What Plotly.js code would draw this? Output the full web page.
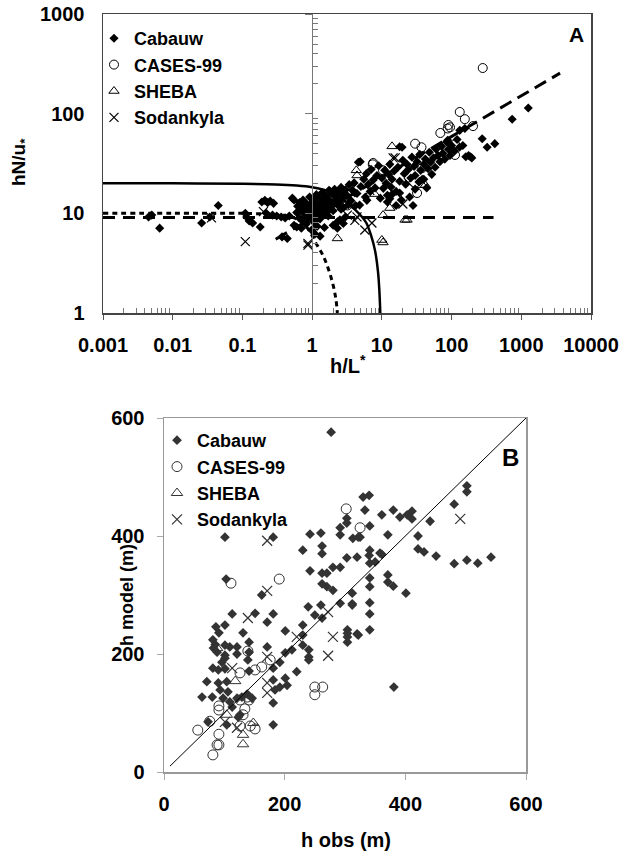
<!DOCTYPE html>
<html>
<head>
<meta charset="utf-8">
<script src="https://cdn.plot.ly/plotly-3.0.1.min.js"></script>
<style>html,body{margin:0;padding:0;background:#fff;}#chart{width:630px;height:854px;}</style>
</head>
<body>
<div id="chart"></div>
<script>
// ---------- Panel A data (h/L*, hN/u*) ----------
const seriesNames = ['Cabauw', 'CASES-99', 'SHEBA', 'Sodankyla'];
const decadeTicksX = [0.001, 0.01, 0.1, 1, 10, 100, 1000, 10000];
const decadeLabelsX = ['0.001', '0.01', '0.1', '1', '10', '100', '1000', '10000'];
const decadeTicksY = [1, 10, 100, 1000];
const decadeLabelsY = ['1', '10', '100', '1000'];

const cabauwA = [
 [0.0045,9.2],[0.005,9.6],[0.0065,7.1],[0.026,8.0],[0.034,9.2],[0.045,12],[0.11,10],[0.115,9.2],[0.125,8.4],[0.14,8.0],
 [0.18,7.3],[0.19,13],[0.21,13.5],[0.23,12.8],[0.25,13.3],[0.28,12.6],[0.22,10],[0.27,9.6],[0.31,9.4],[0.36,9.2],
 [0.41,9.0],[0.37,5.8],[0.44,5.6],[0.52,14.2],[0.55,13.6],[0.55,7.6],[0.6,7.3],[0.7,7.1],[0.47,9.4],
 [0.6,10.2],[0.62,11.8],[0.65,9.0],[0.66,12.8],[0.7,10.6],[0.72,8.6],[0.74,13.6],[0.78,9.8],[0.8,11.4],[0.82,7.8],
 [0.84,12.4],[0.88,10.2],[0.9,8.8],[0.92,14.6],[0.95,11.0],[0.97,9.4],[0.98,6.8],[1.0,12.8],[1.02,10.4],[1.05,8.2],
 [1.08,13.8],[1.1,11.4],[1.12,9.6],[1.15,15.4],[1.18,7.4],[1.2,12.2],[1.25,10.2],[1.28,14.2],[1.3,8.8],[1.35,11.8],
 [1.4,16.2],[1.42,9.8],[1.45,13.2],[1.5,7.2],[1.55,11.0],[1.6,14.8],[1.65,12.4],[1.7,9.4],[1.75,17.0],[1.8,13.2],
 [1.9,11.8],[1.95,15.6],[2.0,10.6],[2.1,17.4],[2.2,13.8],[2.3,12.2],[2.4,16.4],[2.5,8.6],[2.6,18.2],[2.7,14.6],
 [2.8,11.4],[3.0,17.2],[3.2,15.0],[3.4,19.4],[3.6,13.4],[3.8,17.0],[4.0,20.2],[4.2,12.0],[4.4,15.8],[1.1,6.2],
 [1.3,5.9],[2.0,7.6],[2.3,7.1],[2.3,8.2],[2.8,7.9],[3.0,9.2],[4.1,16],[4.8,12.1],[6.1,13.5],[0.75,10.8],
 [0.85,9.2],[1.0,9.6],[1.2,10.8],[1.4,12.6],[1.6,10.2],[1.8,11.0],[2.0,12.6],[2.2,15.0],[2.5,13.0],[2.9,15.8],
 [3.3,12.2],[1.05,12.0],[1.5,14.0],[0.7,12.0],[0.9,11.6],[1.15,8.6],[1.35,10.6],[1.7,13.8],[2.6,11.0],
 [4.6,32.6],[4.9,33],[5.0,18.6],[5.5,22],[5.8,14.6],[6.0,25],[6.4,19.6],[6.8,16.6],[7.0,27.6],[7.5,21.6],
 [8.0,18],[8.5,24],[9.0,30],[9.5,14.2],[10,22.6],[10.5,17.8],[11,27],[11.5,20],[12,15.2],[12.5,24.6],
 [13,31],[13.5,18.4],[14,22],[15,26.6],[16,16.6],[17,29],[18,21],[18,46.5],[19.5,46],[19,13.6],
 [20,34],[21,25],[22,19.6],[23,31],[24,27.6],[25,14.6],[26,22.6],[27,36.6],[28,12],[29,29.6],
 [30,24],[32,33],[34,20.6],[35,39],[36,27],[38,22],[40,31],[42,35],[44,18],[46,28],
 [48,41],[50,32.6],[52,24.6],[55,36],[58,29],[60,44],[64,38],[68,33],[72,47],[75,40],
 [80,35],[85,52],[88,54],[90,44],[95,38],[100,48],[110,42],[120,55],[131,68],[155,71],
 [130,46],[145,48],[160,37],[175,38],[186,37],[195,36],[275,56],[324,46],[417,50],[740,88],
 [1260,114],[12,13],[14,15.5],[16,12],[13,14],[18,16],[30,17.5],[35,21],[40,22]
];
const casesA = [
 [7.4,31],[7.5,32],[30,50],[37,46],[38,28.5],[32,16],[69,64],[90,77],[95,73],[112,49],
 [112,38.5],[131,104],[155,88],[203,75],[280,287],[10.4,27],[3.2,12],[88,71]
];
const shebaA = [
 [14,47],[4.3,27],[4.4,24],[42,19.2],[7.9,15.6],[2.3,5.6],[10.4,5.1],[10.4,9.6],[21.5,8.6],[23,8.6],
 [38,19.2],[13,11.3],[10,5.4]
];
const sodankylaA = [
 [0.036,9.0],[0.11,5.2],[0.2,10.4],[0.87,5.0],[0.87,4.8],[3.2,9.6],[4.4,9.2],[4.1,8.5],[5.7,6.8],[7.2,8.0],
 [6.7,17],[20,12.4],[24,20.3],[14.5,36],[15.5,36]
];

// Panel A model curves
const solidCurveX = [0.001,0.01,0.1,0.3,0.6,1,1.5,2,2.8,3.5,4.3,5.2,6,7,8,8.8,9.2,9.5];
const solidCurveY = [20,20,19.8,19.5,19,18.3,17.2,16,13.8,12,10.6,9.2,8,6,4.2,2.6,1.7,1.0];
const dotCurveX = [0.001,0.01,0.1,0.3,0.5,0.7,0.9,1.1,1.4,1.7,2.0,2.2,2.3];
const dotCurveY = [10,10,10,9.7,9.2,8.2,6.8,5.2,3.9,2.8,1.9,1.35,1.0];
const flatLineX = [0.001, 400];
const flatLineY = [9.1, 9.1];
const slopeLineX = [0.3, 3600];
const slopeLineY = [5.5, 255];

// ---------- Panel B data (h obs, h model) ----------
const linearTicks = [0, 200, 400, 600];
const cabauwB = [
 [277,576],[101,398],[181,398],[103,327],[162,300],[242,403],[260,405],[262,383],[262,370],[230,376],
 [242,341],[262,337],[270,337],[280,347],[292,347],[262,319],[270,314],[280,308],[292,414],[292,402],
 [303,430],[303,422],[313,396],[330,466],[340,469],[333,444],[325,398],[303,363],[320,364],[340,367],
 [358,371],[341,376],[312,303],
 [361,436],[380,444],[391,432],[403,436],[411,442],[411,429],[441,425],[341,417],[322,398],[371,402],
 [421,400],[421,378],[431,373],[451,366],[481,353],[502,359],[520,354],[542,364],[481,454],[502,485],
 [502,475],[341,354],[350,356],[361,369],[371,334],[371,322],[380,315],[401,303],[341,329],[341,314],
 [312,285],[341,287],[341,268],[341,241],[320,234],[381,144],
 [113,268],[151,269],[181,268],[171,254],[101,249],[86,246],[91,236],[81,224],[85,216],[82,210],
 [88,203],[101,215],[109,212],[121,212],[121,200],[101,198],[131,236],[141,220],[171,212],[141,203],
 [139,190],[201,239],[239,280],[260,283],[292,286],[312,283],[230,249],[250,266],[262,261],[230,232],
 [212,207],[201,202],[192,186],[230,215],[240,207],[240,195],[240,190],[304,241],[304,235],[304,229],
 [304,220],[322,232],[220,170],[181,176],[181,156],[201,159],[204,147],[192,144],[184,139],[81,176],
 [90,173],[101,175],[96,186],[101,193],[71,153],[90,151],[104,153],[93,139],[106,136],[80,127],
 [63,127],[98,125],[109,119],[121,125],[129,127],[138,132],[146,125],[113,110],[126,97],[123,93],
 [104,80],[73,85],[181,117],[181,80],[141,171]
];
const casesB = [
 [111,320],[191,327],[302,446],[325,414],[139,205],[126,168],[151,173],[162,178],[176,190],[91,112],
 [91,105],[126,122],[138,127],[141,122],[134,107],[131,97],[76,86],[56,71],[91,64],[88,46],
 [91,46],[81,29],[126,78],[143,78],[151,73],[250,144],[263,144],[250,131]
];
const shebaB = [[118,154],[104,97],[131,63],[131,47],[148,83],[88,210]];
const sodankylaB = [
 [171,392],[171,307],[491,429],[139,261],[113,176],[171,195],[171,151],[171,134],[101,85],[121,75],
 [220,229],[280,229],[272,197],[272,271]
];
const oneToOneX = [10, 600];
const oneToOneY = [10, 600];

// ---------- Layout geometry ----------
const W = 630, H = 854;
const domAx = [103 / W, 591 / W], domAy = [1 - 313 / H, 1 - 14 / H];
const domBx = [164 / W, 526 / W], domBy = [1 - 772 / H, 1 - 418 / H];
const posX1 = domAx[0] + (3 / 7) * (domAx[1] - domAx[0]);

const minorLog = (lo, hi) => {
  const out = [];
  for (let e = lo; e < hi; e++) for (let m = 2; m <= 9; m++) out.push(m * Math.pow(10, e));
  return out;
};

const FONT = 'Liberation Sans, Arial, Helvetica, sans-serif';
const bold = s => '<b>' + s + '</b>';
const xs = a => a.map(p => p[0]);
const ys = a => a.map(p => p[1]);

const symA = {
  'Cabauw': {symbol: 'diamond', size: 7, color: '#000', line: {width: 0}},
  'CASES-99': {symbol: 'circle-open', size: 9, color: '#000', line: {width: 1}},
  'SHEBA': {symbol: 'triangle-up-open', size: 9, color: '#000', line: {width: 1}},
  'Sodankyla': {symbol: 'x-thin-open', size: 9, color: '#000', line: {width: 1.2, color: '#000'}}
};
const symB = {
  'Cabauw': {symbol: 'diamond', size: 7.5, color: '#333', line: {width: 0}},
  'CASES-99': {symbol: 'circle-open', size: 10, color: '#333', line: {width: 1}},
  'SHEBA': {symbol: 'triangle-up-open', size: 10, color: '#333', line: {width: 1}},
  'Sodankyla': {symbol: 'x-thin-open', size: 10, color: '#333', line: {width: 1.2, color: '#333'}}
};

const dataA = [cabauwA, casesA, shebaA, sodankylaA];
const dataB = [cabauwB, casesB, shebaB, sodankylaB];
const traces = [];
// empty traces that only bring the overlay axes (minor ticks, vertical axis at x = 1) to life
traces.push({type: 'scatter', mode: 'markers', x: [], y: [], xaxis: 'x2', yaxis: 'y', showlegend: false, hoverinfo: 'skip'});
traces.push({type: 'scatter', mode: 'markers', x: [], y: [], xaxis: 'x', yaxis: 'y2', showlegend: false, hoverinfo: 'skip'});
traces.push({type: 'scatter', mode: 'markers', x: [], y: [], xaxis: 'x', yaxis: 'y3', showlegend: false, hoverinfo: 'skip'});

seriesNames.forEach((n, i) => {
  traces.push({type: 'scatter', mode: 'markers', name: bold(n), x: xs(dataA[i]), y: ys(dataA[i]),
    xaxis: 'x', yaxis: 'y', marker: symA[n], legend: 'legend', hoverinfo: 'x+y'});
});
traces.push({type: 'scatter', mode: 'lines', x: solidCurveX, y: solidCurveY, xaxis: 'x', yaxis: 'y',
  line: {color: '#000', width: 2.5, shape: 'spline', smoothing: 1}, showlegend: false});
traces.push({type: 'scatter', mode: 'lines', x: dotCurveX, y: dotCurveY, xaxis: 'x', yaxis: 'y',
  line: {color: '#000', width: 3, dash: '5px,4px', shape: 'spline', smoothing: 1}, showlegend: false});
traces.push({type: 'scatter', mode: 'lines', x: flatLineX, y: flatLineY, xaxis: 'x', yaxis: 'y',
  line: {color: '#000', width: 3, dash: '12px,8px'}, showlegend: false});
traces.push({type: 'scatter', mode: 'lines', x: slopeLineX, y: slopeLineY, xaxis: 'x', yaxis: 'y',
  line: {color: '#000', width: 3, dash: '13px,7px'}, showlegend: false});

seriesNames.forEach((n, i) => {
  traces.push({type: 'scatter', mode: 'markers', name: bold(n), x: xs(dataB[i]), y: ys(dataB[i]),
    xaxis: 'x3', yaxis: 'y4', marker: symB[n], legend: 'legend2', hoverinfo: 'x+y'});
});
traces.push({type: 'scatter', mode: 'lines', x: oneToOneX, y: oneToOneY, xaxis: 'x3', yaxis: 'y4',
  line: {color: '#000', width: 1}, showlegend: false});

const frame = {showline: true, mirror: true, showgrid: false, zeroline: false};
const tickFont = {family: FONT, size: 20, color: '#000'};

const layout = {
  width: W, height: H,
  margin: {l: 0, r: 0, t: 0, b: 0},
  paper_bgcolor: '#fff', plot_bgcolor: 'rgba(0,0,0,0)',
  font: {family: FONT, size: 18, color: '#000'},
  showlegend: true,
  xaxis: Object.assign({}, frame, {domain: domAx, anchor: 'y', type: 'log', range: [-3, 4],
    tickmode: 'array', tickvals: decadeTicksX, ticktext: decadeLabelsX.map(bold),
    ticks: 'outside', ticklen: 5, tickcolor: '#555', linecolor: '#444', linewidth: 1.5,
    tickfont: tickFont, ticklabelstandoff: 8}),
  xaxis2: {overlaying: 'x', anchor: 'y', type: 'log', range: [-3, 4], tickmode: 'array',
    tickvals: minorLog(-3, 4), ticks: 'inside', ticklen: 5, tickcolor: '#777',
    showticklabels: false, showline: false, showgrid: false, zeroline: false, side: 'bottom'},
  yaxis: Object.assign({}, frame, {domain: domAy, anchor: 'x', type: 'log', range: [0, 3],
    tickmode: 'array', tickvals: decadeTicksY, ticktext: decadeLabelsY.map(bold),
    ticks: '', linecolor: '#444', linewidth: 1.5, tickfont: tickFont, ticklabelstandoff: 13}),
  yaxis2: {overlaying: 'y', anchor: 'free', position: posX1, type: 'log', range: [0, 3],
    tickmode: 'array', tickvals: [10, 100, 1000], ticks: 'outside', ticklen: 7, tickcolor: '#777',
    showline: true, linecolor: '#777', linewidth: 1, showticklabels: false, showgrid: false,
    zeroline: false, side: 'left'},
  yaxis3: {overlaying: 'y', anchor: 'free', position: posX1, type: 'log', range: [0, 3],
    tickmode: 'array', tickvals: minorLog(0, 3), ticks: 'inside', ticklen: 5, tickcolor: '#777',
    showline: false, showticklabels: false, showgrid: false, zeroline: false, side: 'left'},
  xaxis3: Object.assign({}, frame, {domain: domBx, anchor: 'y4', range: [0, 600],
    tickmode: 'array', tickvals: linearTicks, ticktext: linearTicks.map(v => bold(String(v))),
    ticks: 'outside', ticklen: 6, tickcolor: '#aaa', linecolor: '#999', linewidth: 1.5,
    tickfont: tickFont, ticklabelstandoff: 7}),
  yaxis4: Object.assign({}, frame, {domain: domBy, anchor: 'x3', range: [0, 600],
    tickmode: 'array', tickvals: linearTicks, ticktext: linearTicks.map(v => bold(String(v))),
    ticks: 'outside', ticklen: 6, tickcolor: '#aaa', linecolor: '#999', linewidth: 1.5,
    tickfont: tickFont, ticklabelstandoff: 8}),
  legend: {x: 94 / W, y: 1 - 20 / H, xanchor: 'left', yanchor: 'top', bgcolor: 'rgba(0,0,0,0)',
    font: {family: FONT, size: 18, color: '#000'}, tracegroupgap: 0, itemclick: false},
  legend2: {x: 157 / W, y: 1 - 422 / H, xanchor: 'left', yanchor: 'top', bgcolor: 'rgba(0,0,0,0)',
    font: {family: FONT, size: 18, color: '#000'}, tracegroupgap: 0, itemclick: false},
  annotations: [
    {xref: 'paper', yref: 'paper', x: 20 / W, y: 1 - 162 / H, text: bold('hN/u<sub>*</sub>'),
      textangle: -90, showarrow: false, font: {family: FONT, size: 19}, xanchor: 'center', yanchor: 'middle'},
    {xref: 'paper', yref: 'paper', x: 348 / W, y: 1 - 364 / H, text: bold('h/L<sup>*</sup>'),
      showarrow: false, font: {family: FONT, size: 20}, xanchor: 'center', yanchor: 'middle'},
    {xref: 'paper', yref: 'paper', x: 576 / W, y: 1 - 34 / H, text: bold('A'),
      showarrow: false, font: {family: FONT, size: 21}, xanchor: 'center', yanchor: 'middle'},
    {xref: 'paper', yref: 'paper', x: 510 / W, y: 1 - 457 / H, text: bold('B'),
      showarrow: false, font: {family: FONT, size: 24}, xanchor: 'center', yanchor: 'middle'},
    {xref: 'paper', yref: 'paper', x: 346 / W, y: 1 - 840 / H, text: bold('h obs (m)'),
      showarrow: false, font: {family: FONT, size: 20}, xanchor: 'center', yanchor: 'middle'},
    {xref: 'paper', yref: 'paper', x: 127 / W, y: 1 - 595 / H, text: bold('h model (m)'),
      textangle: -90, showarrow: false, font: {family: FONT, size: 18}, xanchor: 'center', yanchor: 'middle'}
  ]
};

Plotly.newPlot('chart', traces, layout, {displayModeBar: false, staticPlot: true});
</script>
</body>
</html>
